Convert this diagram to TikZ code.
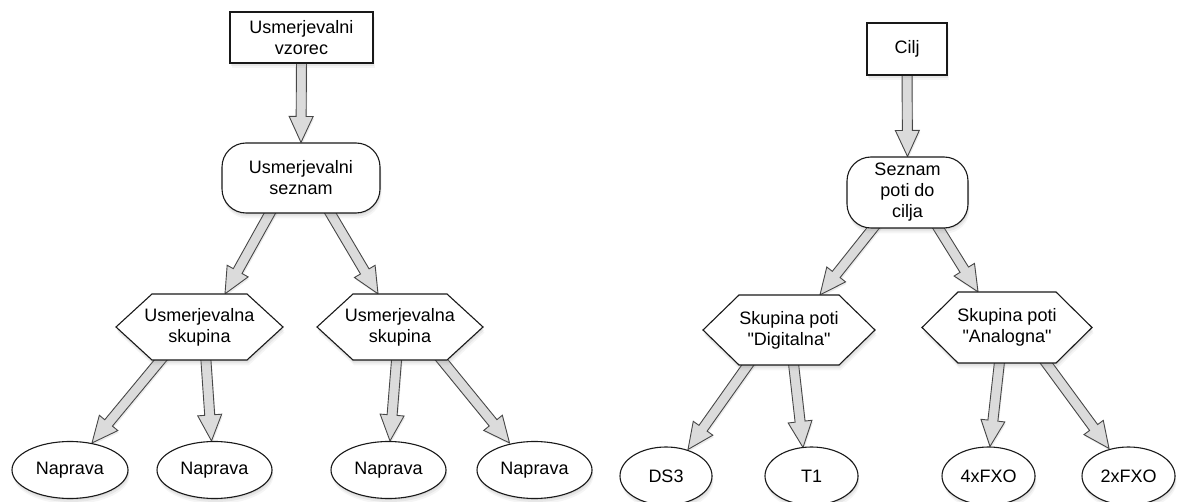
\documentclass[tikz,border=0pt]{standalone}
\usepackage{fontspec}
\setmainfont{Liberation Sans}
\usetikzlibrary{calc,shadows,shapes.geometric}
\pgfdeclarelayer{bg}
\pgfsetlayers{bg,main}
\tikzset{
  shad/.style={drop shadow={shadow xshift=0.5pt, shadow yshift=-1.5pt, opacity=0.14},
               drop shadow={shadow xshift=1pt, shadow yshift=-3.5pt, opacity=0.12},
               drop shadow={shadow xshift=1.5pt, shadow yshift=-5.5pt, opacity=0.08}},
  base/.style={draw=black!90, line width=1.1pt, fill=white, align=center, inner sep=0pt,
    font=\fontsize{18}{21}\selectfont, shad},
  boxnode/.style={base, rectangle},
  roundnode/.style={base, rectangle, rounded corners=24pt},
  ellnode/.style={base, ellipse},
  hexshape/.style={draw=black!90, line width=1.1pt, fill=white, line join=miter, shad},
  hextext/.style={align=center, inner sep=0pt, font=\fontsize{18}{21}\selectfont},
  fatarrow/.style={draw=black!72, line width=0.9pt, fill=black!14, line join=miter,
    drop shadow={opacity=0.15, shadow xshift=1pt, shadow yshift=-2pt}}
}
\newcommand\hexnode[6]{%
  \path[hexshape] ({#2-#4/2},#3) -- ({#2-#4/2+36},{#3+#5/2}) -- ({#2+#4/2-36},{#3+#5/2})
    -- ({#2+#4/2},#3) -- ({#2+#4/2-36},{#3-#5/2}) -- ({#2-#4/2+36},{#3-#5/2}) -- cycle;
  \node[hextext, minimum width=#4pt, minimum height=#5pt] (#1) at (#2,#3) {#6};
}
\newcommand\fatarr[2]{%
  \coordinate (fas) at (#1);
  \coordinate (fae) at (#2);
  \coordinate (fah) at ($(fae)!26pt!(fas)$);
  \path[fatarrow] ($(fas)!5pt!90:(fae)$) -- ($(fah)!5pt!90:(fae)$) -- ($(fah)!12pt!90:(fae)$)
    -- (fae) -- ($(fah)!12pt!-90:(fae)$) -- ($(fah)!5pt!-90:(fae)$) -- ($(fas)!5pt!-90:(fae)$) -- cycle;
}
\begin{document}
\begin{tikzpicture}[x=1pt, y=1pt]
\useasboundingbox (0,0) rectangle (1183,-502);
% left tree
\node[boxnode, minimum width=143pt, minimum height=51pt] (vz) at (301.5,-37.5) {Usmerjevalni\\vzorec};
\node[roundnode, minimum width=158pt, minimum height=70pt] (ls) at (301,-178) {Usmerjevalni\\seznam};
\hexnode{h1}{199.5}{-327}{167}{66}{Usmerjevalna\\skupina}
\hexnode{h2}{400}{-327}{166}{66}{Usmerjevalna\\skupina}
\node[ellnode, minimum width=116pt, minimum height=57pt] (e1) at (70,-470) {Naprava};
\node[ellnode, minimum width=115pt, minimum height=57pt] (e2) at (214.5,-470) {Naprava};
\node[ellnode, minimum width=115pt, minimum height=57pt] (e3) at (388.5,-470) {Naprava};
\node[ellnode, minimum width=115pt, minimum height=57pt] (e4) at (534.5,-470) {Naprava};
% right tree
\node[boxnode, minimum width=80pt, minimum height=52pt] (cj) at (907,-49) {Cilj};
\node[roundnode, minimum width=121pt, minimum height=71pt] (sp) at (907.5,-192.5) {Seznam\\poti do\\cilja};
\hexnode{h3}{789}{-330}{172}{70}{Skupina poti\\\textquotedbl Digitalna\textquotedbl}
\hexnode{h4}{1007}{-327.5}{170}{71}{Skupina poti\\\textquotedbl Analogna\textquotedbl}
\node[ellnode, minimum width=92pt, minimum height=58pt] (d1) at (666,-476) {DS3};
\node[ellnode, minimum width=93pt, minimum height=58pt] (d2) at (811.5,-476) {T1};
\node[ellnode, minimum width=93pt, minimum height=58pt] (d3) at (988.5,-476) {4xFXO};
\node[ellnode, minimum width=93pt, minimum height=58pt] (d4) at (1128.5,-476) {2xFXO};
\begin{pgfonlayer}{bg}
\fatarr{$(vz.south)+(0,6)$}{ls.north}
\fatarr{$(ls.south)+(-28,6)$}{$(h1.north)+(25.5,0)$}
\fatarr{$(ls.south)+(26,6)$}{$(h2.north)+(-22,0)$}
\fatarr{$(h1.south)+(-34,6)$}{$(e1.north)+(22,-2)$}
\fatarr{$(h1.south)+(6,6)$}{$(e2.north)+(-3,0)$}
\fatarr{$(h2.south)+(-3,6)$}{$(e3.north)+(1.5,0)$}
\fatarr{$(h2.south)+(37,6)$}{$(e4.north)+(-25,-2)$}
\fatarr{$(cj.south)+(0,6)$}{sp.north}
\fatarr{$(sp.south)+(-30,6)$}{$(h3.north)+(31,0)$}
\fatarr{$(sp.south)+(27.5,6)$}{$(h4.north)+(-29,0)$}
\fatarr{$(h3.south)+(-37,6)$}{$(d1.north)+(22,-3)$}
\fatarr{$(h3.south)+(4,6)$}{$(d2.north)+(-8.5,-1)$}
\fatarr{$(h4.south)+(-7,6)$}{$(d3.north)+(1.5,0)$}
\fatarr{$(h4.south)+(35,6)$}{$(d4.north)+(-19.5,-2)$}
\end{pgfonlayer}
\end{tikzpicture}
\end{document}
